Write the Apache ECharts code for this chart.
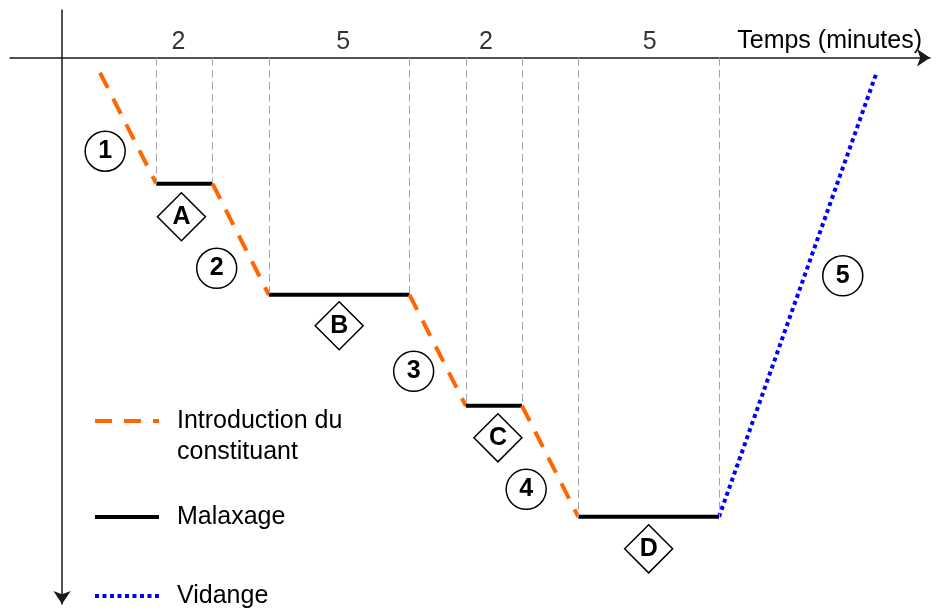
<!DOCTYPE html>
<html>
<head>
<meta charset="utf-8">
<script src="https://cdn.jsdelivr.net/npm/echarts@6/dist/echarts.min.js"></script>
<style>html,body{margin:0;padding:0;background:#fff}#chart{width:936px;height:612px}</style>
</head>
<body>
<div id="chart"></div>
<script>
// ---- data ----
const phaseIds = ['1', 'A', '2', 'B', '3', 'C', '4', 'D', '5'];
const phaseKinds = ['intro', 'mix', 'intro', 'mix', 'intro', 'mix', 'intro', 'mix', 'drain'];
const phaseDurations = [2, 2, 2, 5, 2, 2, 2, 5, 5.6];          // minutes
const startTime = 1.35;                                          // minutes after the axis origin
const levels = [0.135, 1.135, 1.135, 2.135, 2.135, 3.135, 3.135, 4.135, 4.135, 0.135]; // level at each phase boundary
const kindNames = { intro: 'Introduction du\nconstituant', mix: 'Malaxage', drain: 'Vidange' };
const axisTitle = 'Temps (minutes)';

// ---- styles ----
const FONT = '"Liberation Sans", Arial, Helvetica, sans-serif';
const FS = 25;
const kindStyles = {
  intro: { color: '#ff6600', width: 4, type: [17, 12] },
  mix:   { color: '#000000', width: 4, type: 'solid' },
  drain: { color: '#0000ff', width: 4, type: [4, 3.5] }
};
const circleOffsets = [[-23, 23], [-24, 29], [-24, 21], [-24, 28], [45, -19]];
const diamondOffsets = [[-3, 33], [0, 31], [4, 32], [0, 32]];
const durationLabelOffsets = [[-6, 0], [4, 0], [-8, 0], [1, 0]];

// ---- build ----
const times = [startTime];
phaseDurations.forEach((d, i) => times.push(times[i] + d));

const series = [];
const circleData = [];
const diamondData = [];
const durationData = [];
let ci = 0, di = 0;
phaseKinds.forEach((kind, i) => {
  const p0 = [times[i], levels[i]];
  const p1 = [times[i + 1], levels[i + 1]];
  const st = kindStyles[kind];
  const s = {
    type: 'line',
    name: kindNames[kind],
    data: [p0, p1],
    symbol: 'none',
    showSymbol: false,
    color: st.color,
    lineStyle: { color: st.color, width: st.width, type: st.type, cap: 'butt' },
    silent: true,
    z: 3,
    animation: false
  };
  const mid = [(p0[0] + p1[0]) / 2, (p0[1] + p1[1]) / 2];
  if (kind === 'mix') {
    s.markLine = {
      silent: true,
      symbol: ['none', 'none'],
      label: { show: false },
      animation: false,
      lineStyle: { color: '#a6a6a6', width: 1, type: [8, 4] },
      data: [
        [{ coord: [p0[0], 0] }, { coord: p0 }],
        [{ coord: [p1[0], 0] }, { coord: p1 }]
      ]
    };
    diamondData.push({ value: mid, name: phaseIds[i], symbolOffset: diamondOffsets[di] });
    durationData.push({ value: [mid[0], 0], name: String(phaseDurations[i]),
      label: { offset: durationLabelOffsets[di] } });
    di++;
  } else {
    circleData.push({ value: mid, name: phaseIds[i], symbolOffset: circleOffsets[ci] });
    ci++;
  }
  series.push(s);
});

const boldLabel = {
  show: true, position: 'inside', color: '#000', textBorderWidth: 0, opacity: 1,
  formatter: p => '{b|' + p.name + '}',
  rich: { b: { fontFamily: FONT, fontWeight: 'bold', fontSize: FS, color: '#000', textBorderWidth: 0 } }
};
series.push({
  type: 'scatter', name: 'circles', data: circleData, symbol: 'circle', symbolSize: 40,
  itemStyle: { color: '#fff', borderColor: '#000', borderWidth: 1.5, opacity: 1 },
  label: boldLabel, silent: true, z: 5, animation: false
});
series.push({
  type: 'scatter', name: 'diamonds', data: diamondData, symbol: 'diamond', symbolSize: [48, 48],
  itemStyle: { color: '#fff', borderColor: '#000', borderWidth: 1.5, opacity: 1 },
  label: boldLabel, silent: true, z: 5, animation: false
});
series.push({
  type: 'scatter', name: 'durations', data: durationData, symbolSize: 0,
  itemStyle: { color: 'rgba(0,0,0,0)' },
  label: { show: true, position: 'top', distance: 3, formatter: p => p.name, color: '#000',
    fontFamily: FONT, fontSize: FS },
  silent: true, z: 5, animation: false
});

const legendBase = {
  orient: 'vertical', left: 93, padding: 0, itemWidth: 64, itemHeight: 14,
  selectedMode: false, lineStyle: { width: 4 }, itemStyle: { opacity: 0, borderWidth: 0 },
  formatter: name => name.indexOf('\n') >= 0 ? '\n' + name : name,
  textStyle: { fontSize: FS, fontFamily: FONT, color: '#000', lineHeight: 31, padding: [0, 0, 0, 13] }
};

const option = {
  backgroundColor: '#fff',
  animation: false,
  grid: { left: 10, right: 6, top: 10, bottom: 8, containLabel: false, outerBoundsMode: 'none' },
  xAxis: {
    type: 'value', min: -1.85, max: 30.85,
    axisLine: { show: true, onZero: true, symbol: ['none', 'arrow'], symbolSize: [13, 13],
      lineStyle: { color: '#1a1a1a', width: 1.5 } },
    axisTick: { show: false }, axisLabel: { show: false }, splitLine: { show: false },
    name: axisTitle, nameLocation: 'end', nameGap: -8,
    nameTextStyle: { fontSize: FS, fontFamily: FONT, color: '#000', align: 'right',
      verticalAlign: 'bottom', padding: [0, 0, 4, 0] }
  },
  yAxis: {
    type: 'value', inverse: true, min: -0.43, max: 4.92,
    axisLine: { show: true, onZero: true, symbol: ['arrow', 'none'], symbolSize: [13, 13],
      lineStyle: { color: '#1a1a1a', width: 1.5 } },
    axisTick: { show: false }, axisLabel: { show: false }, splitLine: { show: false }
  },
  legend: [
    Object.assign({}, legendBase, { top: 374.5, data: [kindNames.intro] }),
    Object.assign({}, legendBase, { top: 501.5, data: [kindNames.mix] }),
    Object.assign({}, legendBase, { top: 580.5, data: [kindNames.drain] })
  ],
  series: series
};

const chart = echarts.init(document.getElementById('chart'), null, { renderer: 'canvas' });
chart.setOption(option);
</script>
</body>
</html>
